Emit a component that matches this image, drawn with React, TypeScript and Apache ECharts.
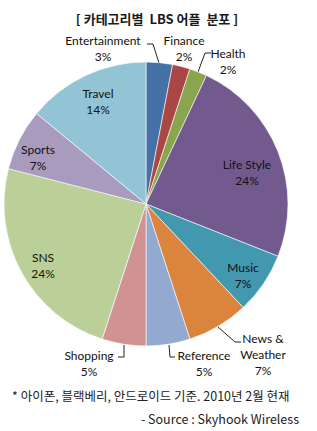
import React, { useEffect, useRef } from "react";
import * as echarts from "echarts";

const categories = [
  "Entertainment", "Finance", "Health", "Life Style", "Music",
  "News &\nWeather", "Reference", "Shopping", "SNS", "Sports", "Travel",
];
const values = [3, 2, 2, 24, 7, 7, 5, 5, 24, 7, 14];
const colors = [
  "#4571a7", "#aa4643", "#89a54e", "#725a8f", "#4198af",
  "#db843d", "#93a9cf", "#d19392", "#bbcf98", "#a99bbd", "#93c4d6",
];
// label block centres (layout only)
const labelXY: [number, number][] = [
  [103, 48], [184, 48.5], [228, 61], [247, 172], [243, 275],
  [263, 354], [204, 363], [89, 363], [43, 265], [38, 157], [98, 101],
];
// leader line points (layout only); empty = no line
const leaderLines: [number, number][][] = [
  [[159, 63], [153, 44], [147, 44]],
  [],
  [[198, 72], [205, 53], [211, 53]],
  [], [],
  [[218, 327], [235, 342], [241, 342]],
  [[169, 345], [170, 357], [175, 357]],
  [[124, 345], [124, 357], [118, 357]],
  [], [], [],
];

export default function App() {
  const ref = useRef<HTMLDivElement>(null);
  useEffect(() => {
    const chart = echarts.init(ref.current!, null, { renderer: "svg" });
    const font = "Lato, 'Liberation Sans', sans-serif";
    chart.setOption({
      animation: false,
      title: {
        text: "[ 카테고리별  LBS 어플  분포 ]",
        left: 152,
        textAlign: "center",
        top: 7,
        textStyle: {
          fontFamily: "'Noto Sans CJK KR', sans-serif",
          fontSize: 13,
          fontWeight: "bold",
          color: "#1a1a1a",
        },
      },
      graphic: [
        {
          type: "text",
          x: 12,
          y: 395,
          style: {
            text: "* 아이폰, 블랙베리, 안드로이드 기준. 2010년 2월 현재",
            font: "12.5px 'Noto Sans CJK KR', sans-serif",
            fill: "#222",
            textVerticalAlign: "middle",
          },
        },
        {
          type: "text",
          x: 299,
          y: 418,
          style: {
            text: "- Source : Skyhook Wireless",
            font: "12.5px 'Noto Sans CJK KR', sans-serif",
            fill: "#222",
            textAlign: "right",
            textVerticalAlign: "middle",
          },
        },
      ],
      series: [
        {
          type: "pie",
          center: [146, 204],
          radius: 142,
          startAngle: 90,
          clockwise: true,
          avoidLabelOverlap: false,
          itemStyle: { borderColor: "#ffffff", borderWidth: 0.6 },
          data: categories.map((c, i) => ({
            name: c,
            value: values[i],
            itemStyle: { color: colors[i] },
          })),
          label: {
            show: true,
            position: "outside",
            formatter: (p: any) => `${p.name}\n${p.value}%`,
            fontFamily: font,
            fontSize: 12,
            lineHeight: 16,
            color: "#111",
            align: "center",
          },
          labelLine: {
            show: true,
            lineStyle: { color: "#222", width: 1 },
          },
          labelLayout: (p: any) => {
            const i = p.dataIndex;
            const pts = leaderLines[i];
            const res: any = {
              x: labelXY[i][0],
              y: labelXY[i][1],
              align: "center",
              verticalAlign: "middle",
            };
            if (pts.length) res.labelLinePoints = pts;
            else res.labelLinePoints = [[0, 0], [0, 0], [0, 0]];
            return res;
          },
        },
      ],
    });
    return () => chart.dispose();
  }, []);
  return (
    <div
      ref={ref}
      style={{ position: "fixed", left: 0, top: 0, width: 317, height: 431, background: "#fff" }}
    />
  );
}
